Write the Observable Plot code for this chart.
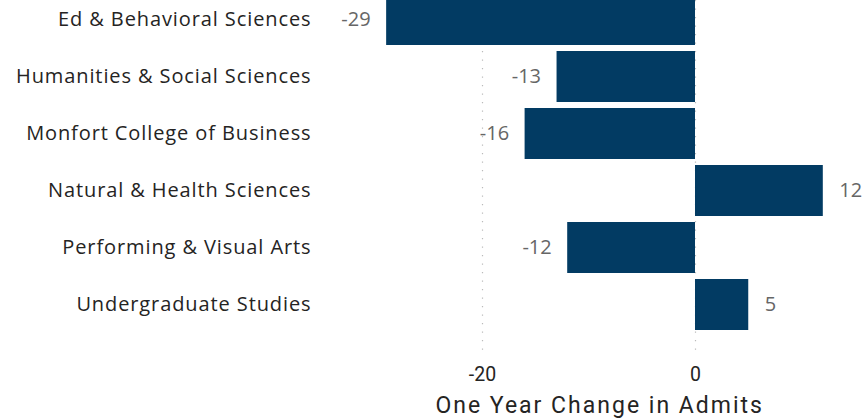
<!DOCTYPE html>
<html>
<head>
<meta charset="utf-8">
<script src="https://cdn.jsdelivr.net/npm/d3@7"></script>
<script src="https://cdn.jsdelivr.net/npm/@observablehq/plot@0.6"></script>
<style>
  html, body { margin: 0; padding: 0; background: #fff; }
  #chart svg { display: block; }
</style>
</head>
<body>
<div id="chart"></div>
<script>
const colleges = [
  "Ed & Behavioral Sciences",
  "Humanities & Social Sciences",
  "Monfort College of Business",
  "Natural & Health Sciences",
  "Performing & Visual Arts",
  "Undergraduate Studies"
];
const changes = [-29, -13, -16, 12, -12, 5];
const xTicks = [-20, 0];
const axisTitle = "One Year Change in Admits";

const data = colleges.map((c, i) => ({college: c, change: changes[i]}));

const chart = Plot.plot({
  width: 864,
  height: 420,
  marginLeft: 320,
  marginRight: 0,
  marginTop: 0,
  marginBottom: 63,
  style: {fontFamily: "'Open Sans', sans-serif", background: "#fff"},
  x: {domain: [-30, 15], range: [375.5, 854.75]},
  y: {domain: colleges, range: [-7.6, 331.1], paddingInner: 0.11, paddingOuter: 0},
  marks: [
    Plot.gridX(xTicks, {stroke: "#bbb", strokeOpacity: 1, strokeWidth: 1.2, strokeDasharray: "1.2,7.3"}),
    Plot.barX(data, {x1: 0, x2: "change", y: "college", fill: "#023b63"}),
    Plot.text(data.filter(d => d.change < 0), {
      x: "change", y: "college", text: d => String(d.change),
      textAnchor: "end", dx: -16, fill: "#666", fontSize: 20
    }),
    Plot.text(data.filter(d => d.change >= 0), {
      x: "change", y: "college", text: d => String(d.change),
      textAnchor: "start", dx: 16, fill: "#666", fontSize: 20
    }),
    Plot.axisY({tickSize: 0, tickPadding: 9, fontSize: 20, color: "#252423", label: null}),
    Plot.axisX(xTicks, {
      tickSize: 0, tickPadding: 10, fontSize: 19.5, color: "#252423",
      fontFamily: "Roboto, sans-serif", label: null, tickFormat: d => String(d)
    }),
    Plot.text([axisTitle], {
      text: d => d, frameAnchor: "bottom", x: () => -9.0, dy: 55,
      lineAnchor: "bottom", textAnchor: "middle",
      fontSize: 23, fontFamily: "Roboto, sans-serif", fill: "#252423"
    })
  ]
});
d3.select(chart).selectAll("g[aria-label='y-axis tick label'] text").style("letter-spacing", "0.9px");
d3.select(chart).selectAll("text").filter(function() { return this.textContent === axisTitle; }).style("letter-spacing", "2px");
document.getElementById("chart").appendChild(chart);
</script>
</body>
</html>
